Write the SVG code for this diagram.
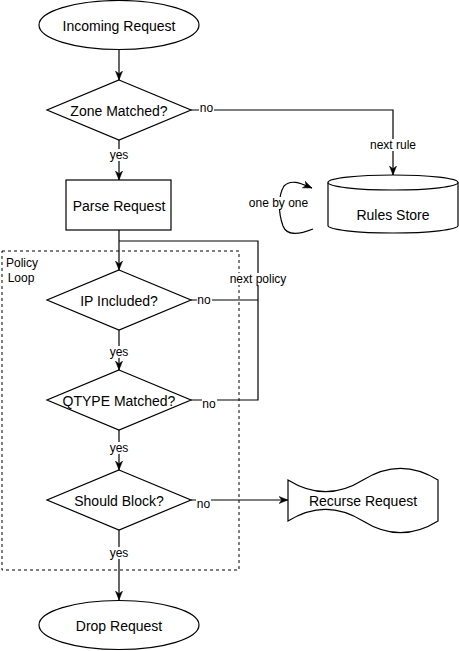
<svg xmlns="http://www.w3.org/2000/svg" width="459" height="651" viewBox="0 0 459 651">
<style>
.shape{fill:#fff;stroke:#000;stroke-width:1.2}
.edge{fill:none;stroke:#000;stroke-width:1.2}
.nt{font-family:"Liberation Sans",Arial,sans-serif;font-size:14px;fill:#000;text-anchor:middle}
.lt{font-family:"Liberation Sans",Arial,sans-serif;font-size:12px;fill:#000;text-anchor:middle}
.bg{fill:#fff;stroke:none}
</style>
<defs>
<marker id="arr" viewBox="0 0 10 10" refX="10" refY="5" markerWidth="9" markerHeight="9" markerUnits="userSpaceOnUse" orient="auto">
<path d="M0,1 L10,5 L0,9 L3,5 Z" fill="#000" stroke="#000" stroke-width="0.5"/>
</marker>
</defs>
<rect id="policy-loop" x="2" y="251" width="237" height="319" fill="none" stroke="#000" stroke-width="1" stroke-dasharray="3,3"/>
<text class="lt" x="22" y="267">Policy</text>
<text class="lt" x="21" y="282">Loop</text>
<g id="connectors">
<path class="edge" d="M119,50 V80" marker-end="url(#arr)"/>
<path class="edge" d="M119,140 V180" marker-end="url(#arr)"/>
<path class="edge" d="M191,110 H393 V175" marker-end="url(#arr)"/>
<path class="edge" d="M119,230 V270" marker-end="url(#arr)"/>
<path class="edge" d="M191,300 H258"/>
<path class="edge" d="M191,400 H258 V241 H119"/>
<path class="edge" d="M119,330 V370" marker-end="url(#arr)"/>
<path class="edge" d="M119,430 V470" marker-end="url(#arr)"/>
<path class="edge" d="M191,500 H288" marker-end="url(#arr)"/>
<path class="edge" d="M119,530 V600" marker-end="url(#arr)"/>
<path class="edge" d="M313,229 C298,235 287,236 283,226 C278,212 278,196 284,186 C291,179 300,183 312,188" marker-end="url(#arr)"/>
<rect class="bg" x="199" y="102" width="15" height="12"/>
<text class="lt" x="206.5" y="112">no</text>
<rect class="bg" x="108" y="149" width="22" height="12"/>
<text class="lt" x="119" y="159">yes</text>
<rect class="bg" x="369" y="139" width="48" height="12"/>
<text class="lt" x="393" y="149">next rule</text>
<rect class="bg" x="250" y="197" width="58" height="12"/>
<text class="lt" x="278.5" y="207">one by one</text>
<rect class="bg" x="228" y="273" width="60" height="12"/>
<text class="lt" x="258" y="283">next policy</text>
<rect class="bg" x="197" y="294" width="15" height="12"/>
<text class="lt" x="204" y="304">no</text>
<rect class="bg" x="108" y="346" width="22" height="12"/>
<text class="lt" x="119" y="356">yes</text>
<rect class="bg" x="202" y="398" width="15" height="12"/>
<text class="lt" x="209" y="408">no</text>
<rect class="bg" x="108" y="442" width="22" height="12"/>
<text class="lt" x="119" y="452">yes</text>
<rect class="bg" x="196" y="498" width="15" height="12"/>
<text class="lt" x="203.5" y="508">no</text>
<rect class="bg" x="108" y="547" width="22" height="12"/>
<text class="lt" x="119" y="557">yes</text>
</g>
<g id="incoming-request">
<ellipse class="shape" cx="119" cy="25" rx="80" ry="24.5"/>
<text class="nt" x="119" y="31">Incoming Request</text>
</g>
<g id="zone-matched">
<path class="shape" d="M119,80 L191,110 L119,140 L47,110 Z"/>
<text class="nt" x="119" y="116">Zone Matched?</text>
</g>
<g id="parse-request">
<rect class="shape" x="66" y="180" width="105" height="50"/>
<text class="nt" x="119" y="211">Parse Request</text>
</g>
<g id="rules-store">
<path class="shape" d="M328,182.5 A65,7.5 0 0 1 458,182.5 V225.5 A65,7.5 0 0 1 328,225.5 Z"/>
<path class="edge" d="M328,182.5 A65,7.5 0 0 0 458,182.5"/>
<text class="nt" x="393" y="220">Rules Store</text>
</g>
<g id="ip-included">
<path class="shape" d="M119,270 L191,300 L119,330 L47,300 Z"/>
<text class="nt" x="119" y="306">IP Included?</text>
</g>
<g id="qtype-matched">
<path class="shape" d="M119,370 L191,400 L119,430 L47,400 Z"/>
<text class="nt" x="119" y="406">QTYPE Matched?</text>
</g>
<g id="should-block">
<path class="shape" d="M119,470 L191,500 L119,530 L47,500 Z"/>
<text class="nt" x="119" y="506">Should Block?</text>
</g>
<g id="recurse-request">
<path class="shape" d="M288,480 Q325.5,503.4 363,480 Q400.5,456.6 438,480 L438,521 Q400.5,544.4 363,521 Q325.5,497.6 288,521 Z"/>
<text class="nt" x="363" y="506">Recurse Request</text>
</g>
<g id="drop-request">
<ellipse class="shape" cx="119" cy="625" rx="80" ry="24.5"/>
<text class="nt" x="119" y="631">Drop Request</text>
</g>
</svg>
